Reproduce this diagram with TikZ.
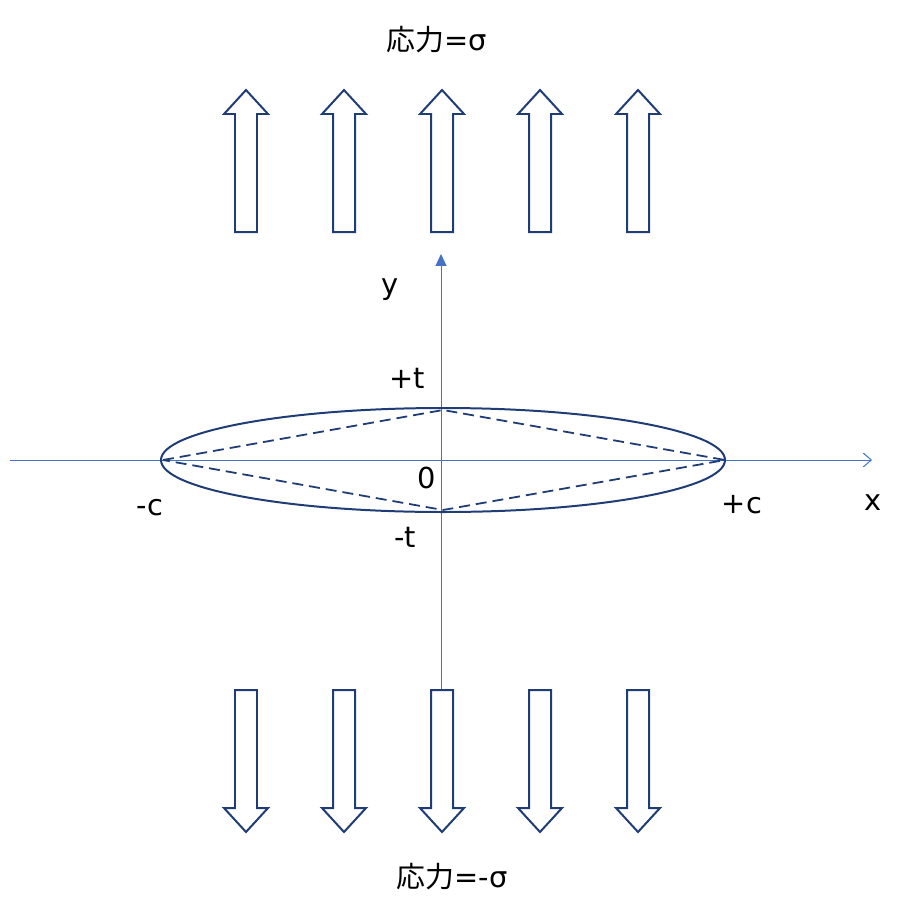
\documentclass[tikz,border=0pt]{standalone}
\usepackage{fontspec}
\setmainfont{DejaVu Sans}
\newfontfamily\cjk{Noto Sans CJK JP}
\usetikzlibrary{arrows.meta}
\definecolor{darkblue}{HTML}{1F3C74}
\definecolor{axisblue}{HTML}{4472C4}
\begin{document}
\begin{tikzpicture}
  [x=1bp, y=-1bp]
  \tikzstyle{axis} = [draw=axisblue, line width=1pt];
  \tikzstyle{load_arrow} = [draw=darkblue, line width=2pt, fill=white, line join=miter];
  \tikzstyle{label} = [font=\fontsize{29}{34}\selectfont, inner sep=0pt];
  \useasboundingbox (0,0) rectangle (917,911);

  % axes
  \coordinate (xl) at (10,460);
  \coordinate (xr) at (872,460);
  \coordinate (yb) at (441,692);
  \coordinate (yt) at (441,254);
  \draw[axis, -{Straight Barb[length=8pt,width=14pt]}] (xl) -- (xr);
  \draw[axis, -{Triangle[length=12pt,width=11pt]}] (yb) -- (yt);

  % crack
  \draw[darkblue, line width=2pt] (443,460) ellipse [x radius=282, y radius=52];
  \coordinate (cl) at (163,460);
  \coordinate (cr) at (725,460);
  \coordinate (ct) at (443,410);
  \coordinate (cb) at (443,510);
  \draw[darkblue, line width=1.8pt, dash pattern=on 11pt off 6pt] (cl) -- (ct) -- (cr) -- (cb) -- cycle;

  % loads
  \foreach \cx in {246,344,442,540,638} {
    \draw[load_arrow] (\cx-11,232) -- (\cx-11,114) -- (\cx-22,114) -- (\cx,90)
      -- (\cx+22,114) -- (\cx+11,114) -- (\cx+11,232) -- cycle;
    \draw[load_arrow] (\cx-11,690) -- (\cx-11,808) -- (\cx-22,808) -- (\cx,832)
      -- (\cx+22,808) -- (\cx+11,808) -- (\cx+11,690) -- cycle;
  }

  \node[label] (top) at (437,40) {{\cjk 応力}=σ};
  \node[label] (bottom) at (452,877) {{\cjk 応力}=-σ};
  \node[label] (ylab) at (390,290) {y};
  \node[label] (tp) at (407,378) {+t};
  \node[label] (zero) at (427,478) {0};
  \node[label] (tm) at (405,537) {-t};
  \node[label] (cm) at (150,508) {-c};
  \node[label] (cp) at (742,505) {+c};
  \node[label] (xlab) at (873,503) {x};
\end{tikzpicture}
\end{document}
